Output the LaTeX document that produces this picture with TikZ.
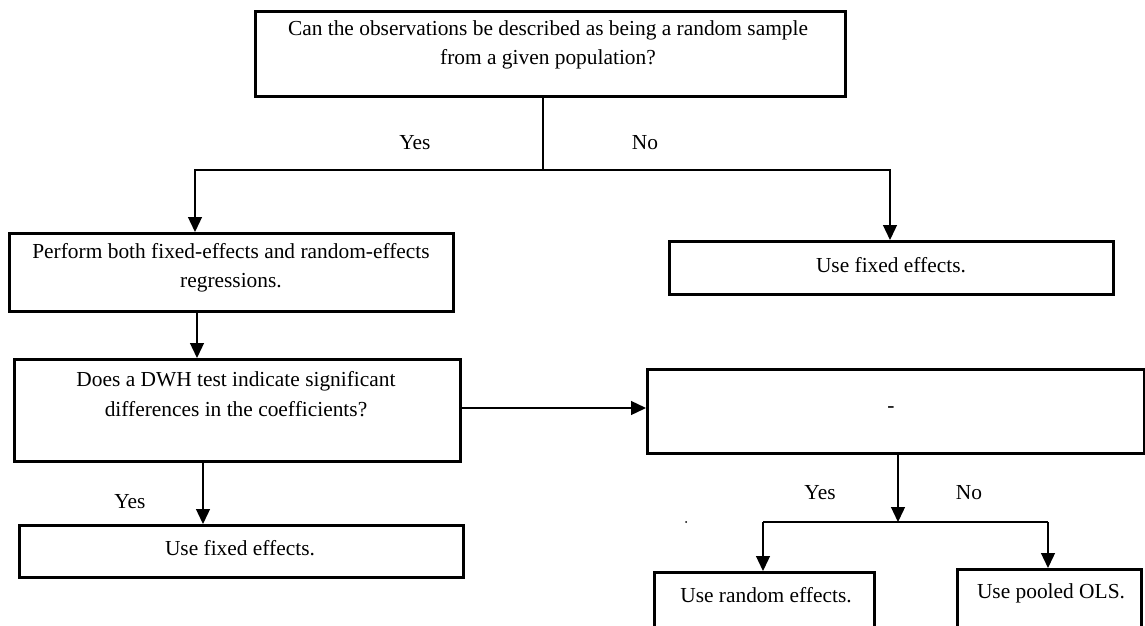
\documentclass[tikz,border=0pt]{standalone}
\usepackage{fontspec}
\setmainfont{Liberation Serif}
\usetikzlibrary{arrows.meta}
\begin{document}
\begin{tikzpicture}[x=1pt,y=-1pt,
  box/.style={draw,line width=2.6pt,rectangle,inner sep=0pt,anchor=north west},
  conn/.style={line width=1.3pt},
  arr/.style={line width=1.3pt,-{Triangle[length=15pt,width=14pt]}},
  lbl/.style={font=\fontsize{21.4}{29.5}\selectfont,inner sep=0pt,align=center}]
\useasboundingbox (0,0) rectangle (1145,626);
% boxes (position by top-left corner, size)
\node[box,minimum width=590pt,minimum height=85pt] (q1) at (254,10) {};
\node[box,minimum width=444pt,minimum height=78pt] (perf) at (8,232) {};
\node[box,minimum width=444pt,minimum height=53pt] (fe1) at (668,240) {};
\node[box,minimum width=446pt,minimum height=102pt] (dwh) at (13,358) {};
\node[box,minimum width=497pt,minimum height=84pt] (dash) at (646,368) {};
\node[box,minimum width=444pt,minimum height=52pt] (fe2) at (18,524) {};
\node[box,minimum width=220pt,minimum height=55pt] (re) at (653,571) {};
\node[box,minimum width=184pt,minimum height=58pt] (ols) at (956,568) {};
% texts
\node[lbl] (q1t) at (548,45) {Can the observations be described as being a random sample\\from a given population?};
\node[lbl] (perft) at (231,268) {Perform both fixed-effects and random-effects\\regressions.};
\node[lbl] (fe1t) at (891,265) {Use fixed effects.};
\node[lbl] (dwht) at (236,394) {Does a DWH test indicate significant\\differences in the coefficients?};
\node[lbl] (dasht) at (891,410) {-};
\node[lbl] (fe2t) at (240,548) {Use fixed effects.};
\node[lbl] (ret) at (766,595) {Use random effects.};
\node[lbl] (olst) at (1051,593) {Use pooled OLS.};
% branch labels
\node[lbl] (yes1) at (415,143) {Yes};
\node[lbl] (no1) at (645,143) {No};
\node[lbl] (yes2) at (130,502) {Yes};
\node[lbl] (yes3) at (820,493) {Yes};
\node[lbl] (no3) at (969,493) {No};
% connectors
\coordinate (j1) at (543,170);
\coordinate (jl) at (195,170);
\coordinate (jr) at (890,170);
\draw[conn] (j1 |- q1.south) -- (j1);
\draw[arr] (j1) -- (jl) -- (jl |- perf.north);
\draw[arr] (j1) -- (jr) -- (jr |- fe1.north);
\coordinate (a2) at (197,0);
\draw[arr] (a2 |- perf.south) -- (a2 |- dwh.north);
\coordinate (a3) at (0,408);
\draw[arr] (dwh.east |- a3) -- (dash.west |- a3);
\coordinate (a4) at (203,0);
\draw[arr] (a4 |- dwh.south) -- (a4 |- fe2.north);
\coordinate (j2) at (898,522);
\coordinate (j2l) at (763,522);
\coordinate (j2r) at (1048,522);
\draw[arr] (j2 |- dash.south) -- (j2);
\draw[conn] (j2l) -- (j2r);
\draw[arr] (j2l) -- (j2l |- re.north);
\draw[arr] (j2r) -- (j2r |- ols.north);
\fill (686,522) circle (1pt);
\end{tikzpicture}
\end{document}
